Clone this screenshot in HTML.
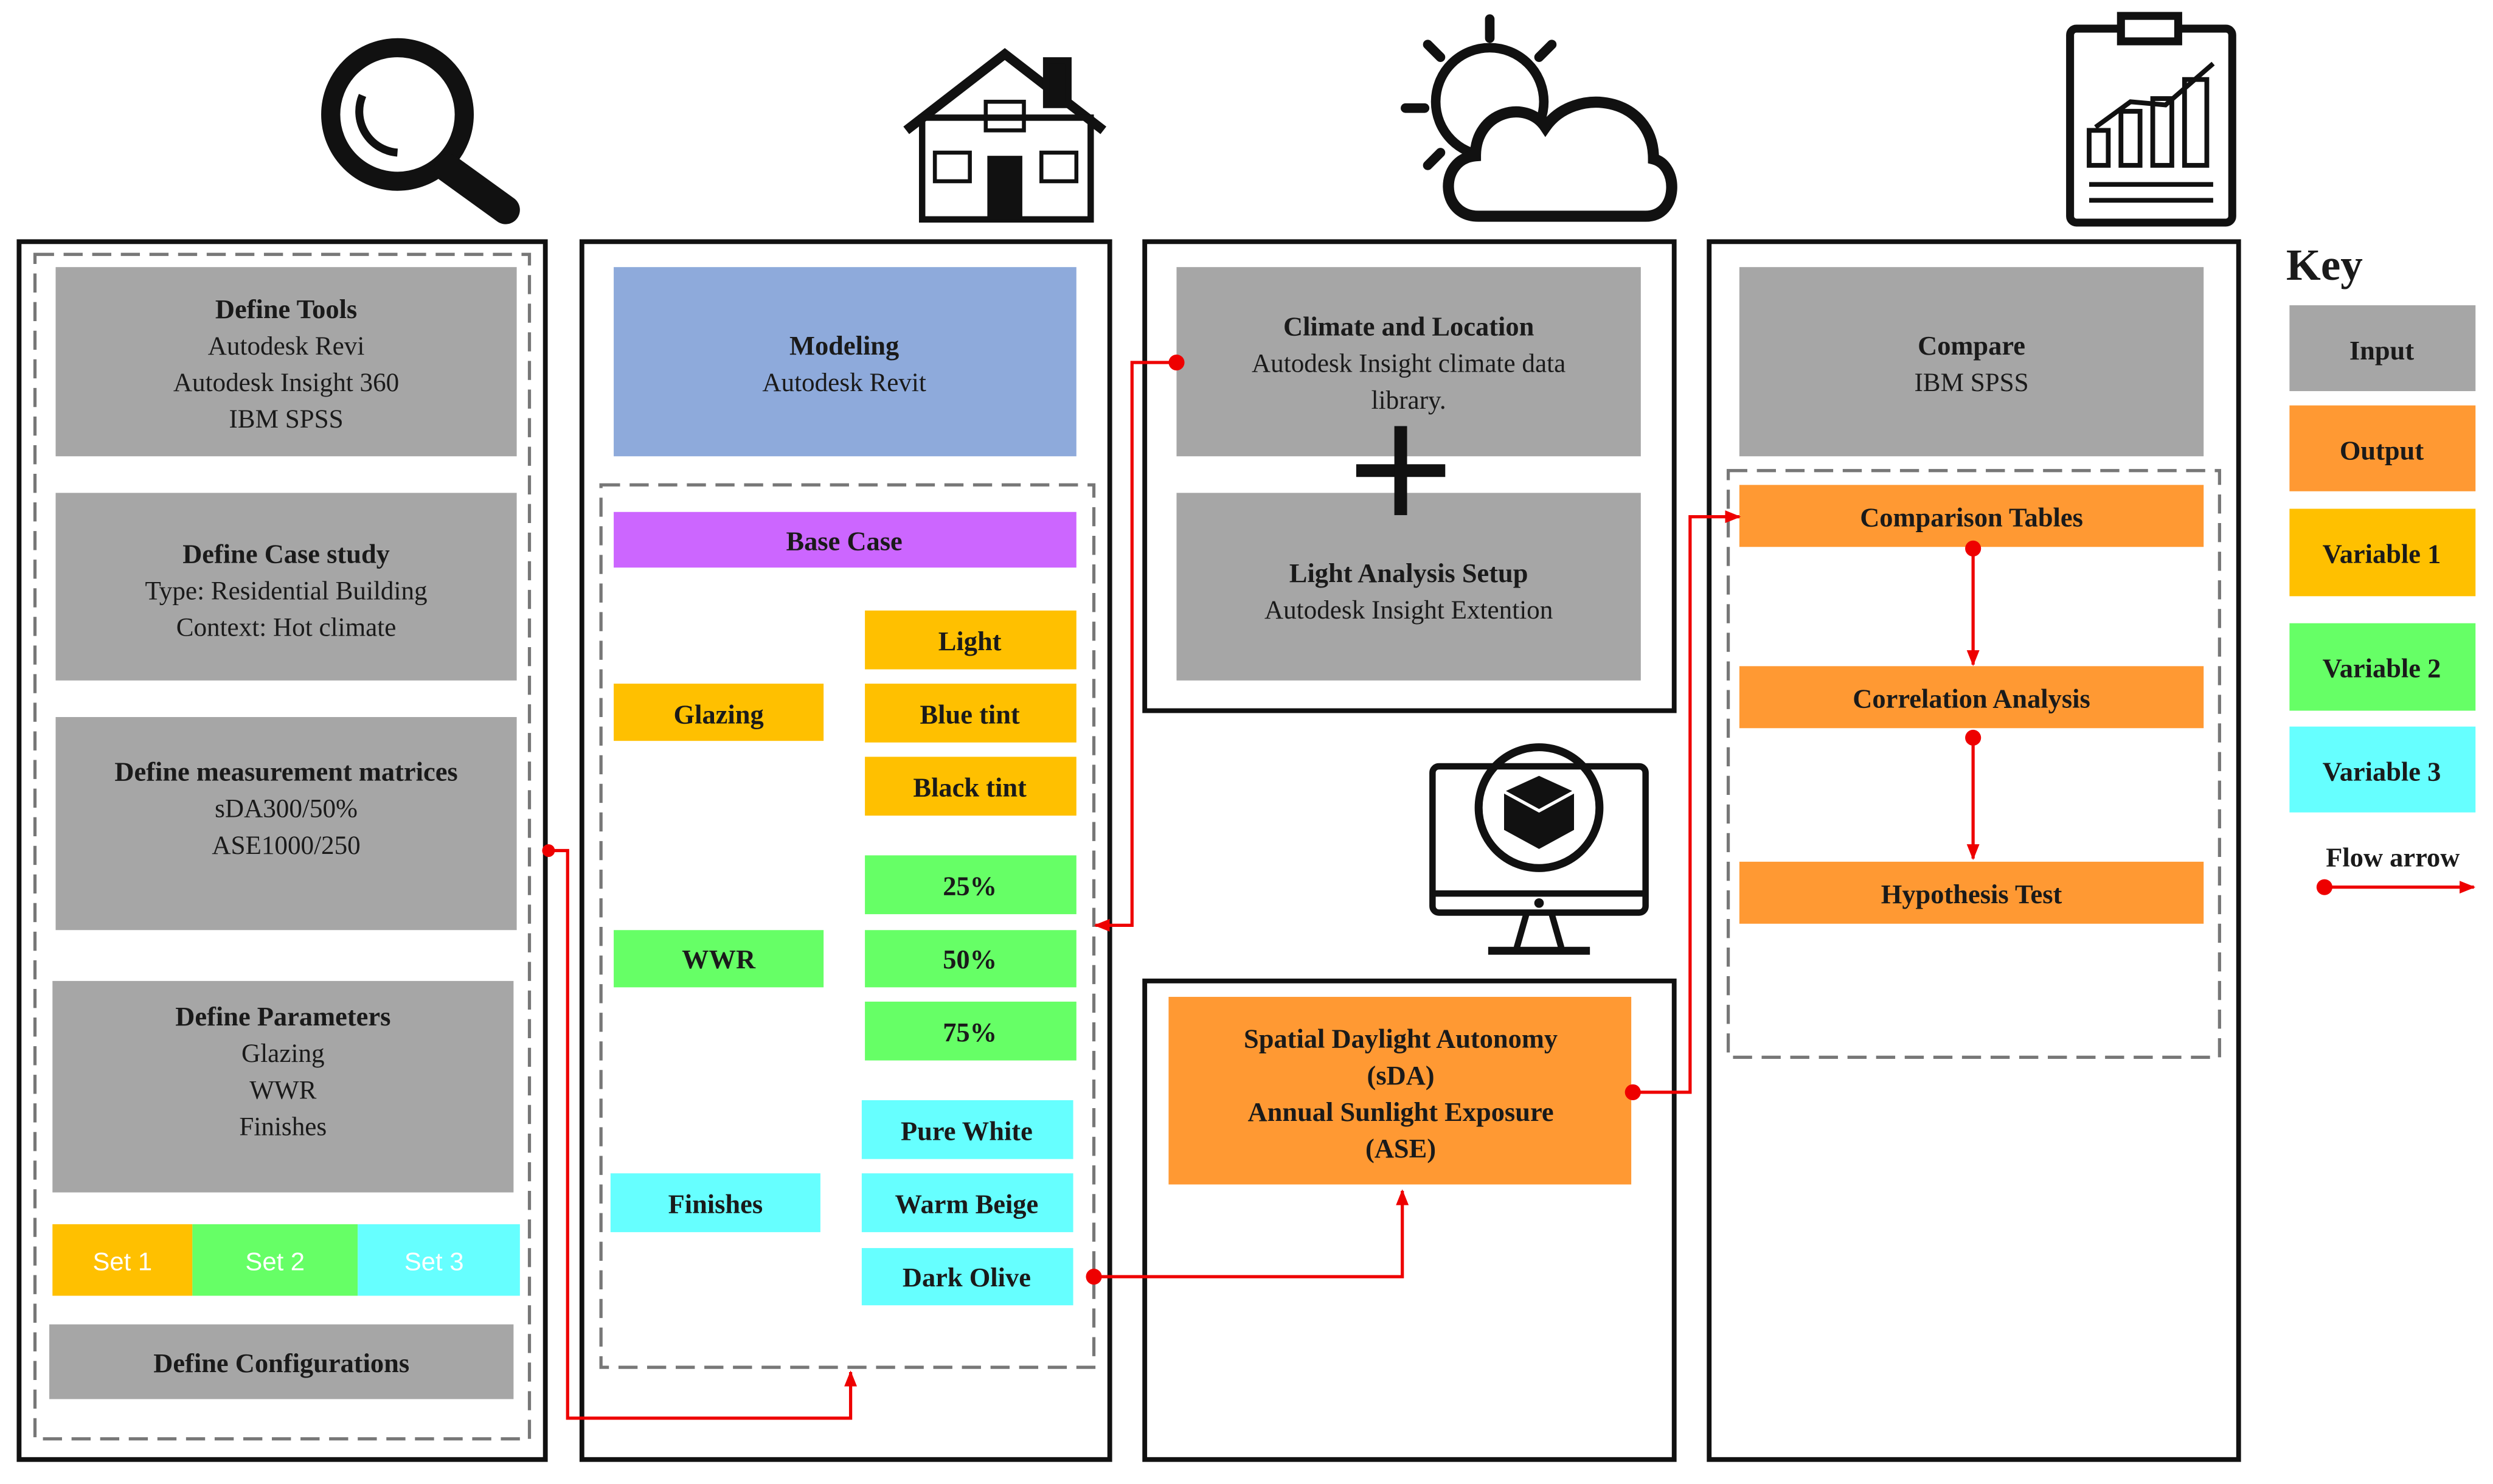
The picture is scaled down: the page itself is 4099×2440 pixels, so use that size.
<!DOCTYPE html>
<html><head><meta charset="utf-8"><style>
html,body{margin:0;padding:0;background:#fff;}
svg{display:block;}
text{font-family:"Liberation Serif",serif;fill:#1a1a1a;text-anchor:middle;}
.b{font-weight:bold;font-size:17px;}
.n{font-size:16.5px;}
</style></head><body>
<svg width="4099" height="2440" viewBox="0 0 1568 933.4" preserveAspectRatio="none" xmlns="http://www.w3.org/2000/svg">
<defs>
<marker id="ah" markerWidth="10" markerHeight="10" refX="9" refY="5" orient="auto" markerUnits="userSpaceOnUse"><path d="M0,1 L10,5 L0,9 Z" fill="#e00"/></marker>
</defs>
<!-- column outer boxes -->
<g fill="none" stroke="#111" stroke-width="3">
<rect x="12" y="152" width="331" height="766"/>
<rect x="366" y="152" width="332" height="766"/>
<rect x="720" y="152" width="333" height="295"/>
<rect x="720" y="617" width="333" height="301"/>
<rect x="1075" y="152" width="333" height="766"/>
</g>
<g fill="none" stroke="#777" stroke-width="2" stroke-dasharray="12,6">
<rect x="22" y="160" width="311" height="745"/>
<rect x="378" y="305" width="310" height="555"/>
<rect x="1087" y="296" width="309" height="369"/>
</g>
<!-- column 1 -->
<g fill="#a6a6a6">
<rect x="35" y="168" width="290" height="119"/>
<rect x="35" y="310" width="290" height="118"/>
<rect x="35" y="451" width="290" height="134"/>
<rect x="33" y="617" width="290" height="133"/>
<rect x="31" y="833" width="292" height="47"/>
</g>
<text x="180" y="200" class="b">Define Tools</text>
<text x="180" y="223" class="n">Autodesk Revi</text>
<text x="180" y="246" class="n">Autodesk Insight 360</text>
<text x="180" y="269" class="n">IBM SPSS</text>
<text x="180" y="354" class="b">Define Case study</text>
<text x="180" y="377" class="n">Type: Residential Building</text>
<text x="180" y="400" class="n">Context: Hot climate</text>
<text x="180" y="491" class="b">Define measurement matrices</text>
<text x="180" y="514" class="n">sDA300/50%</text>
<text x="180" y="537" class="n">ASE1000/250</text>
<text x="178" y="645" class="b">Define Parameters</text>
<text x="178" y="668" class="n">Glazing</text>
<text x="178" y="691" class="n">WWR</text>
<text x="178" y="714" class="n">Finishes</text>
<rect x="33" y="770" width="88" height="45" fill="#ffc000"/>
<rect x="121" y="770" width="104" height="45" fill="#66ff66"/>
<rect x="225" y="770" width="102" height="45" fill="#66ffff"/>
<text x="77" y="799" style="font-family:'Liberation Sans',sans-serif;font-size:16px;fill:#fff">Set 1</text>
<text x="173" y="799" style="font-family:'Liberation Sans',sans-serif;font-size:16px;fill:#fff">Set 2</text>
<text x="273" y="799" style="font-family:'Liberation Sans',sans-serif;font-size:16px;fill:#fff">Set 3</text>
<text x="177" y="863" class="b">Define Configurations</text>
<!-- column 2 -->
<rect x="386" y="168" width="291" height="119" fill="#8eaadb"/>
<text x="531" y="223" class="b">Modeling</text>
<text x="531" y="246" class="n">Autodesk Revit</text>
<rect x="386" y="322" width="291" height="35" fill="#cc66ff"/>
<text x="531" y="346" class="b">Base Case</text>
<g fill="#ffc000">
<rect x="544" y="384" width="133" height="37"/><rect x="386" y="430" width="132" height="36"/>
<rect x="544" y="430" width="133" height="37"/><rect x="544" y="476" width="133" height="37"/>
</g>
<g fill="#66ff66">
<rect x="544" y="538" width="133" height="37"/><rect x="386" y="585" width="132" height="36"/>
<rect x="544" y="585" width="133" height="36"/><rect x="544" y="630" width="133" height="37"/>
</g>
<g fill="#66ffff">
<rect x="542" y="692" width="133" height="37"/><rect x="384" y="738" width="132" height="37"/>
<rect x="542" y="738" width="133" height="37"/><rect x="542" y="785" width="133" height="36"/>
</g>
<text x="610" y="409" class="b">Light</text>
<text x="452" y="455" class="b">Glazing</text>
<text x="610" y="455" class="b">Blue tint</text>
<text x="610" y="501" class="b">Black tint</text>
<text x="610" y="563" class="b">25%</text>
<text x="452" y="609" class="b">WWR</text>
<text x="610" y="609" class="b">50%</text>
<text x="610" y="655" class="b">75%</text>
<text x="608" y="717" class="b">Pure White</text>
<text x="450" y="763" class="b">Finishes</text>
<text x="608" y="763" class="b">Warm Beige</text>
<text x="608" y="809" class="b">Dark Olive</text>
<!-- column 3 -->
<rect x="740" y="168" width="292" height="119" fill="#a6a6a6"/>
<rect x="740" y="310" width="292" height="118" fill="#a6a6a6"/>
<text x="886" y="211" class="b">Climate and Location</text>
<text x="886" y="234" class="n">Autodesk Insight climate data</text>
<text x="886" y="257" class="n">library.</text>
<text x="886" y="366" class="b">Light Analysis Setup</text>
<text x="886" y="389" class="n">Autodesk Insight Extention</text>
<rect x="853" y="292" width="56" height="8" fill="#111"/>
<rect x="877" y="268" width="8" height="56" fill="#111"/>
<rect x="735" y="627" width="291" height="118" fill="#ff9933"/>
<text x="881" y="659" class="b">Spatial Daylight Autonomy</text>
<text x="881" y="682" class="b">(sDA)</text>
<text x="881" y="705" class="b">Annual Sunlight Exposure</text>
<text x="881" y="728" class="b">(ASE)</text>
<!-- column 4 -->
<rect x="1094" y="168" width="292" height="119" fill="#a6a6a6"/>
<text x="1240" y="223" class="b">Compare</text>
<text x="1240" y="246" class="n">IBM SPSS</text>
<g fill="#ff9933">
<rect x="1094" y="305" width="292" height="39"/>
<rect x="1094" y="419" width="292" height="39"/>
<rect x="1094" y="542" width="292" height="39"/>
</g>
<text x="1240" y="331" class="b">Comparison Tables</text>
<text x="1240" y="445" class="b">Correlation Analysis</text>
<text x="1240" y="568" class="b">Hypothesis Test</text>
<!-- key -->
<text x="1462" y="176" style="font-weight:bold;font-size:28px">Key</text>
<rect x="1440" y="192" width="117" height="54" fill="#a6a6a6"/>
<rect x="1440" y="255" width="117" height="54" fill="#ff9933"/>
<rect x="1440" y="320" width="117" height="55" fill="#ffc000"/>
<rect x="1440" y="392" width="117" height="55" fill="#66ff66"/>
<rect x="1440" y="457" width="117" height="54" fill="#66ffff"/>
<text x="1498" y="226" class="b">Input</text>
<text x="1498" y="289" class="b">Output</text>
<text x="1498" y="354" class="b">Variable 1</text>
<text x="1498" y="426" class="b">Variable 2</text>
<text x="1498" y="491" class="b">Variable 3</text>
<text x="1505" y="545" class="b">Flow arrow</text>
<!-- arrows -->
<g fill="none" stroke="#e00" stroke-width="2">
<line x1="1462" y1="558" x2="1556" y2="558" marker-end="url(#ah)"/>
<polyline points="345,535 357,535 357,892 535,892 535,863" marker-end="url(#ah)"/>
<polyline points="740,228 712,228 712,582 689,582" marker-end="url(#ah)"/>
<polyline points="688,803 882,803 882,749" marker-end="url(#ah)"/>
<polyline points="1027,687 1063,687 1063,325 1094,325" marker-end="url(#ah)"/>
<line x1="1241" y1="345" x2="1241" y2="418" marker-end="url(#ah)"/>
<line x1="1241" y1="464" x2="1241" y2="540" marker-end="url(#ah)"/>
</g>
<g fill="#e00">
<circle cx="1462" cy="558" r="5"/><circle cx="345" cy="535" r="4"/><circle cx="740" cy="228" r="5"/>
<circle cx="688" cy="803" r="5"/><circle cx="1027" cy="687" r="5"/><circle cx="1241" cy="345" r="5"/><circle cx="1241" cy="464" r="5"/>
</g>
<!-- icons: magnifier -->
<g stroke="#111" fill="none">
<circle cx="250" cy="72" r="42" stroke-width="12"/>
<line x1="282" y1="106" x2="318" y2="132" stroke-width="18" stroke-linecap="round"/>
<path d="M228,60 A26,26 0 0 0 250,96" stroke-width="5"/>
</g>
<!-- house -->
<g stroke="#111" fill="none" stroke-width="4">
<polyline points="570,82 632,34 694,82" stroke-width="6"/>
<rect x="580" y="74" width="106" height="64"/>
<rect x="658" y="38" width="14" height="28" fill="#111"/>
<rect x="620" y="64" width="24" height="18" stroke-width="2.5"/>
<rect x="588" y="96" width="22" height="18" stroke-width="2.5"/>
<rect x="655" y="96" width="22" height="18" stroke-width="2.5"/>
</g>
<rect x="621" y="98" width="22" height="40" fill="#111"/>
<!-- sun and cloud -->
<g stroke="#111" fill="none" stroke-width="6" stroke-linecap="round">
<circle cx="937" cy="64" r="34"/>
<line x1="937" y1="12" x2="937" y2="24"/><line x1="884" y1="68" x2="896" y2="68"/>
<line x1="898" y1="28" x2="906" y2="36"/><line x1="976" y1="28" x2="968" y2="36"/>
<line x1="898" y1="104" x2="906" y2="96"/>
<path d="M930,136 C905,136 905,100 928,98 C928,70 960,62 972,80 C990,54 1040,60 1040,100 C1056,104 1056,136 1035,136 Z" fill="#fff" stroke-width="7"/>
</g>
<!-- clipboard -->
<g stroke="#111" fill="none" stroke-width="5">
<rect x="1302" y="18" width="102" height="122" rx="4"/>
<rect x="1334" y="10" width="36" height="16" fill="#fff"/>
<polyline points="1318,80 1340,64 1362,66 1392,40" stroke-width="3"/>
<rect x="1314" y="82" width="12" height="22" stroke-width="3"/>
<rect x="1334" y="70" width="12" height="34" stroke-width="3"/>
<rect x="1354" y="62" width="12" height="42" stroke-width="3"/>
<rect x="1374" y="50" width="14" height="54" stroke-width="3"/>
<line x1="1314" y1="116" x2="1392" y2="116" stroke-width="3"/>
<line x1="1314" y1="126" x2="1392" y2="126" stroke-width="3"/>
</g>
<!-- computer -->
<g stroke="#111" fill="none" stroke-width="4">
<rect x="901" y="482" width="134" height="92" rx="4"/>
<line x1="901" y1="562" x2="1035" y2="562"/>
<line x1="960" y1="575" x2="954" y2="596"/><line x1="976" y1="575" x2="982" y2="596"/>
<line x1="936" y1="598" x2="1000" y2="598" stroke-width="5"/>
<circle cx="968" cy="508" r="38" stroke-width="5"/>
</g>
<circle cx="968" cy="568" r="3" fill="#111"/>
<polygon points="968,488 990,498 990,522 968,534 946,522 946,498" fill="#111"/>
<polyline points="946,498 968,510 990,498 M968,510 968,534" stroke="#fff" stroke-width="2" fill="none"/>
</svg>
</body></html>
